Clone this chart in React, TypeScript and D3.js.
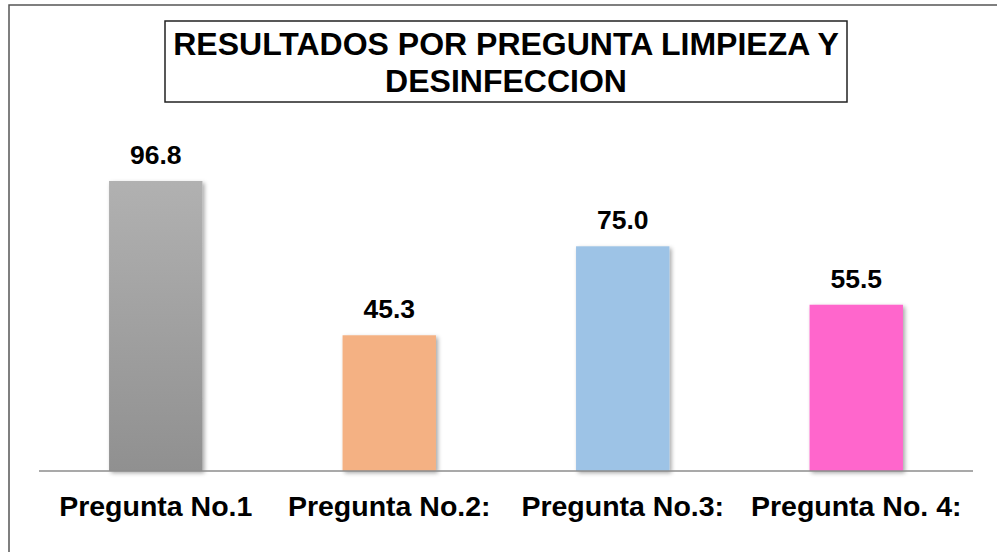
import React from "react";
import * as d3 from "d3";

const categories = ["Pregunta No.1", "Pregunta No.2:", "Pregunta No.3:", "Pregunta No. 4:"];
const values = [96.8, 45.3, 75.0, 55.5];
const barColors = ["url(#grayGrad)", "#f4b183", "#9dc3e6", "#ff66cc"];
const titleLines = ["RESULTADOS POR PREGUNTA LIMPIEZA Y", "DESINFECCION"];

const W = 997;
const H = 552;
const FONT = "'Liberation Sans', Arial, sans-serif";

export default function App() {
  const x = d3.scaleBand<string>()
    .domain(categories)
    .range([39, 973])
    .paddingInner(0.6)
    .paddingOuter(0.3);
  const y = d3.scaleLinear().domain([0, 100]).range([471, 171.4]);

  return (
    <div style={{ position: "absolute", left: 0, top: 0 }}>
      <svg width={W} height={H} style={{ display: "block", background: "#fff" }}>
        <defs>
          <linearGradient id="grayGrad" x1="0" y1="0" x2="0" y2="1">
            <stop offset="0%" stopColor="#b1b1b1" />
            <stop offset="100%" stopColor="#909090" />
          </linearGradient>
          <filter id="shadow" x="-20%" y="-10%" width="150%" height="130%">
            <feDropShadow dx="2" dy="2" stdDeviation="2" floodColor="#000" floodOpacity="0.35" />
          </filter>
        </defs>

        {/* outer frame */}
        <path d={`M9,${H} V5 H${W}`} fill="none" stroke="#555" strokeWidth={1.5} />

        {/* title box */}
        <rect x={165} y={21} width={682} height={81} fill="#fff" stroke="#222" strokeWidth={1.5} />
        {titleLines.map((t, i) => (
          <text
            key={t}
            x={506}
            y={55 + i * 37}
            textAnchor="middle"
            fontFamily={FONT}
            fontWeight="bold"
            fontSize={32}
            fill="#000"
          >
            {t}
          </text>
        ))}

        {/* bars */}
        {categories.map((c, i) => (
          <rect
            key={c}
            x={x(c)}
            y={y(values[i])}
            width={x.bandwidth()}
            height={y(0) - y(values[i])}
            fill={barColors[i]}
            filter="url(#shadow)"
          />
        ))}

        {/* baseline */}
        <line x1={39} x2={973} y1={y(0)} y2={y(0)} stroke="#8c8c8c" strokeWidth={1.5} />

        {/* value labels */}
        {categories.map((c, i) => (
          <text
            key={c + "v"}
            x={(x(c) ?? 0) + x.bandwidth() / 2}
            y={y(values[i]) - 17}
            textAnchor="middle"
            fontFamily={FONT}
            fontWeight="bold"
            fontSize={26.5}
            fill="#000"
          >
            {values[i].toFixed(1)}
          </text>
        ))}

        {/* category labels */}
        {categories.map((c) => (
          <text
            key={c + "l"}
            x={(x(c) ?? 0) + x.bandwidth() / 2}
            y={516}
            textAnchor="middle"
            fontFamily={FONT}
            fontWeight="bold"
            fontSize={28.5}
            fill="#000"
          >
            {c}
          </text>
        ))}
      </svg>
    </div>
  );
}
